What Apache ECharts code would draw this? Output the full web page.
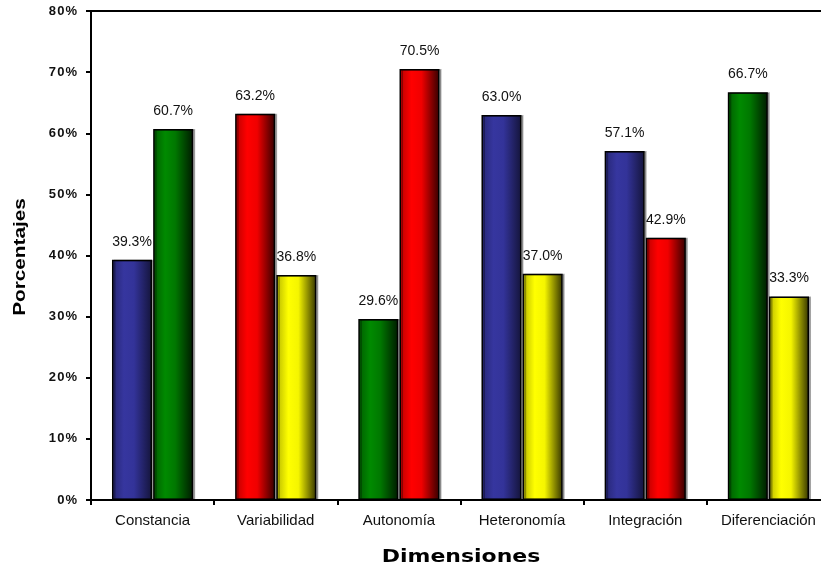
<!DOCTYPE html>
<html>
<head>
<meta charset="utf-8">
<script src="https://cdn.jsdelivr.net/npm/echarts@6/dist/echarts.min.js"></script>
<style>
  html, body { margin: 0; padding: 0; background: #fff; }
  #chart { width: 821px; height: 569px; }
</style>
</head>
<body>
<div id="chart"></div>
<script>
// Dimensions and their two percentages (first bar, second bar)
const categories = ['Constancia', 'Variabilidad', 'Autonomía', 'Heteronomía', 'Integración', 'Diferenciación'];
const firstValues = [39.3, 63.2, 29.6, 63.0, 57.1, 66.7];
const secondValues = [60.7, 36.8, 70.5, 37.0, 42.9, 33.3];
const firstColors = ['blue', 'red', 'green', 'blue', 'blue', 'green'];
const secondColors = ['green', 'yellow', 'red', 'yellow', 'red', 'yellow'];
const yTicks = [0, 10, 20, 30, 40, 50, 60, 70, 80];

// Cylinder-like shading for each fill colour
const palette = {
  blue:   ['#262673', '#36369f', '#333399', '#14143a'],
  green:  ['#005c00', '#008a00', '#007800', '#001a00'],
  red:    ['#b80000', '#ff0000', '#f00000', '#330000'],
  yellow: ['#b8b800', '#ffff00', '#f5f500', '#333300']
};

function shade(name) {
  const c = palette[name];
  return {
    type: 'linear', x: 0, y: 0, x2: 1, y2: 0,
    colorStops: [
      { offset: 0, color: c[0] },
      { offset: 0.3, color: c[1] },
      { offset: 0.55, color: c[2] },
      { offset: 1, color: c[3] }
    ]
  };
}

function buildData(values, colors) {
  return values.map((v, i) => ({
    value: v,
    itemStyle: { color: shade(colors[i]) }
  }));
}

const barStyle = {
  borderColor: '#000',
  borderWidth: 1.5,
  shadowColor: 'rgba(0,0,0,0.3)',
  shadowOffsetX: 2,
  shadowOffsetY: 0,
  shadowBlur: 0
};

const labelStyle = {
  show: true,
  position: 'top',
  distance: 11,
  fontFamily: 'Liberation Sans, Arial, sans-serif',
  fontSize: 14,
  color: '#111',
  formatter: p => p.value.toFixed(1) + '%'
};

const chart = echarts.init(document.getElementById('chart'));
chart.setOption({
  animation: false,
  backgroundColor: '#fff',
  grid: {
    left: 91, top: 11, right: -9, bottom: 69,
    outerBoundsMode: 'none',
    containLabel: false,
    show: true, borderColor: '#000', borderWidth: 2, backgroundColor: 'transparent'
  },
  xAxis: {
    type: 'category',
    data: categories,
    axisLine: { lineStyle: { color: '#000', width: 2 } },
    axisTick: { show: true, length: 5, lineStyle: { color: '#000', width: 2 } },
    axisLabel: {
      interval: 0,
      margin: 13,
      fontFamily: 'Liberation Sans, Arial, sans-serif',
      fontSize: 15,
      color: '#111'
    }
  },
  yAxis: {
    type: 'value',
    min: 0, max: 80, interval: 10,
    splitLine: { show: false },
    axisLine: { show: true, lineStyle: { color: '#000', width: 2 } },
    axisTick: { show: true, length: 5, lineStyle: { color: '#000', width: 2 } },
    axisLabel: {
      margin: 14,
      fontFamily: 'Liberation Sans, Arial, sans-serif',
      fontWeight: 'bold',
      fontSize: 13,
      color: '#111',
      formatter: v => yTicks.includes(v) ? String(v).split('').join('\u200a') + '\u200a%' : ''
    }
  },
  series: [
    {
      type: 'bar',
      name: 'primera',
      data: buildData(firstValues, firstColors),
      barWidth: 40,
      barGap: '3%',
      itemStyle: barStyle,
      label: labelStyle
    },
    {
      type: 'bar',
      name: 'segunda',
      data: buildData(secondValues, secondColors),
      barWidth: 40,
      barGap: '3%',
      itemStyle: barStyle,
      label: labelStyle
    }
  ],
  graphic: [
    {
      type: 'text',
      x: 461, y: 557,
      scaleX: 1.22,
      style: {
        text: 'Dimensiones',
        textAlign: 'center', textVerticalAlign: 'middle',
        fontFamily: 'DejaVu Sans, Verdana, sans-serif',
        fontWeight: 'bold', fontSize: 18, fill: '#000'
      }
    },
    {
      type: 'text',
      rotation: Math.PI / 2,
      x: 20, y: 257,
      scaleX: 1.22,
      style: {
        text: 'Porcentajes',
        textAlign: 'center', textVerticalAlign: 'middle',
        fontFamily: 'Liberation Sans, Arial, sans-serif',
        fontWeight: 'bold', fontSize: 17, fill: '#000'
      }
    }
  ]
});
</script>
</body>
</html>
